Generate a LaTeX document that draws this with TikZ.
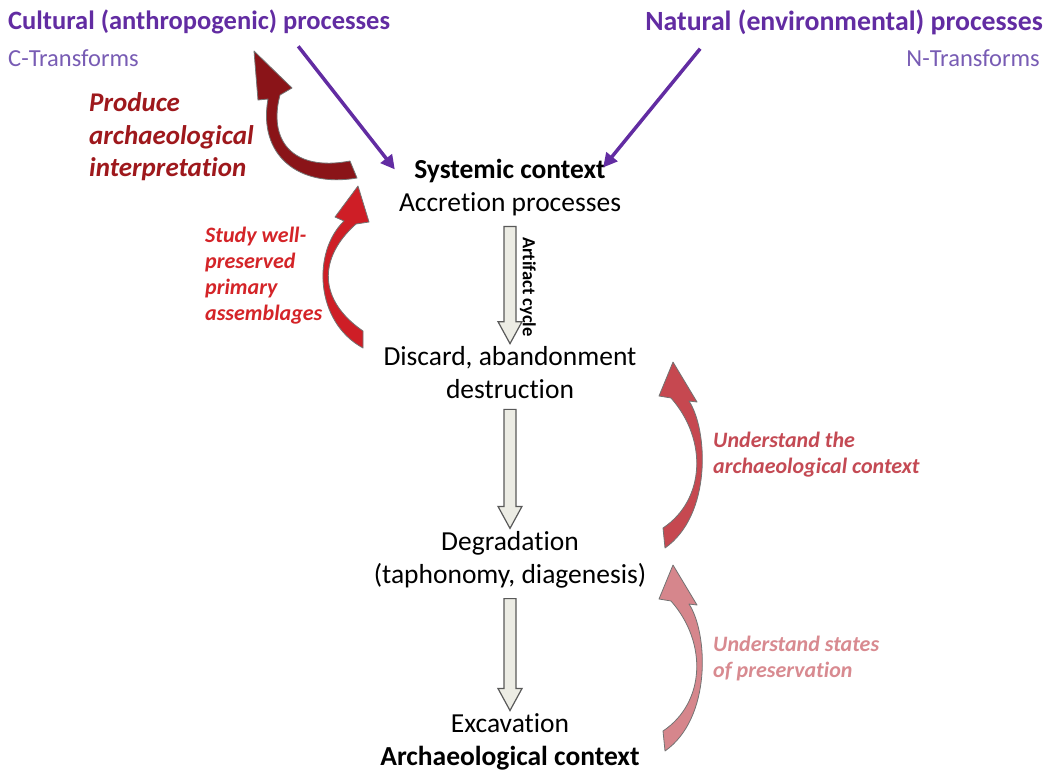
\documentclass[tikz,border=0pt]{standalone}
\usepackage{fontspec}
\setmainfont{Carlito}[Ligatures=NoCommon]
\usetikzlibrary{arrows.meta,calc}

\definecolor{procpurple}{RGB}{98,44,162}
\definecolor{transpurple}{RGB}{120,92,180}
\definecolor{darkred}{RGB}{138,20,24}
\definecolor{brightred}{RGB}{206,30,38}
\definecolor{midred}{RGB}{198,72,80}
\definecolor{palered}{RGB}{214,134,140}
\definecolor{prodtext}{RGB}{158,24,28}
\definecolor{studytext}{RGB}{212,36,40}
\definecolor{contexttext}{RGB}{196,74,84}
\definecolor{statestext}{RGB}{216,138,144}
\definecolor{cyclegray}{RGB}{236,236,228}

\tikzset{
  stage/.style={align=center, inner sep=0pt, font=\fontsize{27.5}{33}\selectfont},
  proc/.style={inner sep=0pt, text=procpurple, font=\bfseries\fontsize{26.5}{31}\selectfont},
  trans/.style={inner sep=0pt, text=transpurple, font=\fontsize{24.5}{28}\selectfont},
  influence/.style={draw=procpurple, line width=3.5pt, -{Triangle[length=14pt,width=14pt]}},
  note/.style={align=left, inner sep=0pt, anchor=west, font=\bfseries\itshape\fontsize{22}{26}\selectfont},
  bentarrow/.style={draw=black!55, line width=0.8pt, line join=round},
  cyclearrow/.style={fill=cyclegray, draw=black!65, line width=1.2pt, line join=miter},
}

% hollow down arrow from one stage to the next
\newcommand{\hollowdown}[2]{%
  \draw[cyclearrow] let \p1=(#1.south), \p2=(#2.north) in
    (\x1-6pt,\y1-10pt) -- (\x1-6pt,\y2+25pt) -- (\x1-12pt,\y2+25pt)
    -- (\x1,\y2+3pt) -- (\x1+12pt,\y2+25pt) -- (\x1+6pt,\y2+25pt)
    -- (\x1+6pt,\y1-10pt) -- cycle;}

\begin{document}
\begin{tikzpicture}[x=1pt,y=-1pt]
\useasboundingbox (0,0) rectangle (1052,772);

% Processes
\node [proc, anchor=west] (cult) at (8,22) {Cultural (anthropogenic) processes};
\node [trans, anchor=west] (ctrans) at (8,58) {C-Transforms};
\node [proc, anchor=east,
    font=\bfseries\fontsize{27.8}{31}\selectfont] (nat) at (1043,22) {Natural (environmental) processes};
\node [trans, anchor=east] (ntrans) at (1040,58) {N-Transforms};

% Stages
\node [stage] (sys) at (510,188) {\textbf{Systemic context}\\Accretion processes};
\node [stage] (disc) at (510,373) {Discard, abandonment\\destruction};
\node [stage] (degr) at (510,560) {Degradation\\(taphonomy, diagenesis)};
\node [stage] (exc) at (510,742) {Excavation\\\textbf{Archaeological context}};

% Artifact cycle
\hollowdown{sys}{disc}
\hollowdown{disc}{degr}
\hollowdown{degr}{exc}
\node [rotate=-90,
    inner sep=0pt,
    font=\bfseries\fontsize{18.5}{20}\selectfont] (cyc) at (528,287) {Artifact cycle};

% Influences
\draw [influence] ([xshift=-92pt,yshift=-12pt]cult.south east) -- ([xshift=-4pt,yshift=-10pt]sys.north west);
\draw [influence] ([xshift=55pt,yshift=-14pt]nat.south west) -- ([xshift=-18pt,yshift=-8pt]sys.north east);

% Produce interpretation
\draw [bentarrow, fill=darkred] (357,178) .. controls (298,188) and (258,155) .. (268,99)
  -- (258,100) -- (254,51) -- (292,88) -- (280,95)
  .. controls (268,140) and (292,172) .. (350,161) -- cycle;
\node [note, text=prodtext, font=\bfseries\itshape\fontsize{27}{32.5}\selectfont] (prod) at (89,137) {Produce\\archaeological\\interpretation};

% Study primary assemblages
\draw [bentarrow, fill=brightred] (363,348) .. controls (315,322) and (312,252) .. (344,221)
  -- (335,217) -- (358,186) -- (369,222) -- (356,224)
  .. controls (318,258) and (318,300) .. (363,331) -- cycle;
\node [note, text=studytext] (study) at (205,276) {Study well-\\preserved\\primary\\assemblages};

% Understand context
\draw [bentarrow, fill=midred] (665,548) .. controls (712,515) and (708,430) .. (689,401)
  -- (697,402) -- (673,362) -- (659,396) -- (671,398)
  .. controls (708,440) and (705,500) .. (663,528) -- cycle;
\node [note, text=contexttext] (ctx) at (713,455) {Understand the\\archaeological context};

% Understand preservation
\begin{scope}[shift={(0,203)}]
\draw [bentarrow, fill=palered] (665,548) .. controls (712,515) and (708,430) .. (689,401)
  -- (697,402) -- (673,362) -- (659,396) -- (671,398)
  .. controls (708,440) and (705,500) .. (663,528) -- cycle;
\end{scope}
\node [note, text=statestext] (pres) at (713,658) {Understand states\\of preservation};

\end{tikzpicture}
\end{document}
